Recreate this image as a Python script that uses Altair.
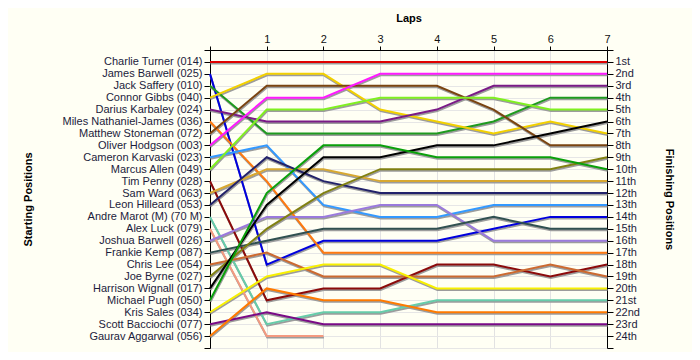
import json
import altair as alt
import pandas as pd

drivers = [
    "Charlie Turner (014)", "James Barwell (025)", "Jack Saffery (010)", "Connor Gibbs (040)",
    "Darius Karbaley (024)", "Miles Nathaniel-James (036)", "Matthew Stoneman (072)",
    "Oliver Hodgson (003)", "Cameron Karvaski (023)", "Marcus Allen (049)", "Tim Penny (028)",
    "Sam Ward (063)", "Leon Hilleard (053)", "Andre Marot  (M) (70 M)", "Alex Luck (079)",
    "Joshua Barwell (026)", "Frankie Kemp (087)", "Chris Lee (054)", "Joe Byrne (027)",
    "Harrison Wignall (017)", "Michael Pugh (050)", "Kris Sales (034)", "Scott Bacciochi (077)",
    "Gaurav Aggarwal (056)",
]

colors = [
    "#E00000", "#0000DD", "#1E9A1E", "#F2D000", "#7A1A86", "#FF7A10", "#7A4410", "#FF1AFF",
    "#3399FF", "#80F020", "#8B0A0A", "#D8A830", "#22226A", "#66CCAA", "#F49A80", "#9A7ADC",
    "#305050", "#CC6A30", "#808010", "#000000", "#0AA00A", "#F8F000", "#7A0A86", "#FF7A00",
]

# position of each driver at lap 0..7
positions = [
    [1, 1, 1, 1, 1, 1, 1, 1],
    [2, 18, 16, 16, 16, 15, 14, 14],
    [3, 7, 7, 7, 7, 6, 4, 4],
    [4, 2, 2, 5, 6, 7, 6, 7],
    [5, 6, 6, 6, 5, 3, 3, 3],
    [6, 11, 17, 17, 17, 17, 17, 17],
    [7, 3, 3, 3, 3, 5, 8, 8],
    [8, 4, 4, 2, 2, 2, 2, 2],
    [9, 8, 13, 14, 14, 13, 13, 13],
    [10, 5, 5, 4, 4, 4, 5, 5],
    [11, 21, 20, 20, 18, 18, 19, 18],
    [12, 10, 10, 11, 11, 11, 11, 11],
    [13, 9, 11, 12, 12, 12, 12, 12],
    [14, 23, 22, 22, 21, 21, 21, 21],
    [15, 24, 24],
    [16, 14, 14, 13, 13, 16, 16, 16],
    [17, 16, 15, 15, 15, 14, 15, 15],
    [18, 17, 19, 19, 19, 19, 18, 19],
    [19, 15, 12, 10, 10, 10, 10, 9],
    [20, 13, 9, 9, 8, 8, 7, 6],
    [21, 12, 8, 8, 9, 9, 9, 10],
    [22, 19, 18, 18, 20, 20, 20, 20],
    [23, 22, 23, 23, 23, 23, 23, 23],
    [24, 20, 21, 21, 22, 22, 22, 22],
]

lap_ticks = [0, 1, 2, 3, 4, 5, 6, 7]
pos_ticks = list(range(0, 26))
finish_labels = [
    "1st", "2nd", "3rd", "4th", "5th", "6th", "7th", "8th", "9th", "10th", "11th", "12th",
    "13th", "14th", "15th", "16th", "17th", "18th", "19th", "20th", "21st", "22nd", "23rd", "24th",
]

rows = []
for d, ps in zip(drivers, positions):
    for lap, p in enumerate(ps):
        rows.append({"driver": d, "lap": lap, "pos": p})
df = pd.DataFrame(rows)

FONT = "Liberation Sans"
LABEL_COLOR = "#1c1c3c"

left_expr = (
    f"datum.value >= 1 && datum.value <= {len(drivers)} ? "
    f"{json.dumps(drivers)}[datum.value - 1] : ''"
)
right_expr = (
    f"datum.value >= 1 && datum.value <= {len(finish_labels)} ? "
    f"{json.dumps(finish_labels)}[datum.value - 1] : ''"
)

x_enc = alt.X(
    "lap:Q",
    scale=alt.Scale(domain=[0, 7], nice=False, zero=False),
    axis=alt.Axis(
        orient="top", values=lap_ticks, labelExpr="datum.value == 0 ? '' : datum.label",
        title="Laps", titleFontWeight="bold", titleFontSize=11, titleY=-32,
        titleBaseline="middle", labelFontSize=11, labelColor="#111111", labelPadding=2,
        tickSize=4, tickColor="#000000", domainColor="#000000", grid=True,
        gridColor="#E2E2E2", labelFlush=False,
    ),
)

y_scale = alt.Scale(domain=[0, 25], reverse=True, nice=False, zero=False)

left_axis = alt.Axis(
    orient="left", values=pos_ticks, labelExpr=left_expr, title="Starting Positions",
    titleFontWeight="bold", titleFontSize=11, titleX=-182, titleY=149, titleAngle=270,
    titleBaseline="middle", titleAlign="center", labelFontSize=11, labelColor=LABEL_COLOR,
    labelPadding=2, tickSize=6, tickColor="#000000", domainColor="#000000", grid=True,
    gridColor="#E6E6E6", labelOverlap=False, labelFlush=False,
)
right_axis = alt.Axis(
    orient="right", values=pos_ticks, labelExpr=right_expr, title="Finishing Positions",
    titleFontWeight="bold", titleFontSize=11, titleX=61, titleY=149, titleAngle=90,
    titleBaseline="middle", titleAlign="center", labelFontSize=11, labelColor=LABEL_COLOR,
    labelPadding=2, tickSize=6, tickColor="#000000", domainColor="#000000", grid=False,
    labelOverlap=False, labelFlush=False,
)

base = alt.Chart(df)

shadow = base.mark_line(stroke="#9c9c9c", strokeWidth=2, yOffset=1.5, xOffset=0.5).encode(
    x=x_enc,
    y=alt.Y("pos:Q", scale=y_scale, axis=left_axis),
    detail="driver:N",
    order="lap:Q",
)

lines = base.mark_line(strokeWidth=2).encode(
    x=x_enc,
    y=alt.Y("pos:Q", scale=y_scale, axis=right_axis),
    color=alt.Color("driver:N", scale=alt.Scale(domain=drivers, range=colors), legend=None),
    order="lap:Q",
)

chart = (
    alt.layer(shadow, lines)
    .resolve_scale(y="independent")
    .properties(
        width=397, height=298,
        autosize=alt.AutoSizeParams(type="none"),
        padding={"left": 202, "top": 42, "right": 85, "bottom": 4},
        background="#FFFFF4",
    )
    .configure_view(stroke="transparent")
    .configure_axis(labelFont=FONT, titleFont=FONT, titleColor="#000000")
)

chart.save("out.html", embed_options={"renderer": "svg", "actions": False})
